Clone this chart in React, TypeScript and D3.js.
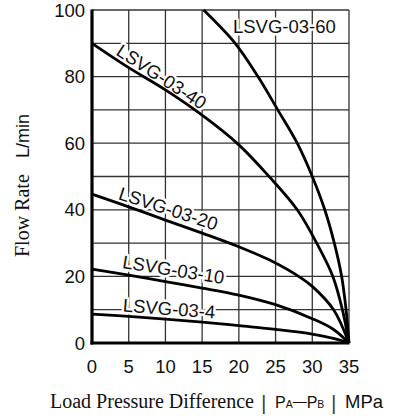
import React from "react";
import * as d3 from "d3";

const W = 400;
const H = 417;

const xTicks = [0, 5, 10, 15, 20, 25, 30, 35];
const yTicks = [0, 20, 40, 60, 80, 100];
const xGrid = [5, 10, 15, 20, 25, 30, 35];
const yGrid = [10, 20, 30, 40, 50, 60, 70, 80, 90, 100];

// [pressure MPa, flow L/min]
const svg60: [number, number][] = [
  [15.2, 100], [19.5, 90], [22.6, 80], [25.3, 70], [27.95, 60],
  [30.0, 50], [31.7, 40], [33.0, 30], [34.0, 20], [34.6, 10], [35, 0],
];
const svg40: [number, number][] = [
  [0, 90], [5, 82.7], [10, 76], [15, 68.4], [20, 59.5], [24.2, 49.8],
  [27.95, 40], [30.6, 30], [32.8, 20], [34.1, 10], [35, 0],
];
const svg20: [number, number][] = [
  [0, 44.7], [5, 40.9], [10, 36.9], [15, 33], [20, 28.9], [24.2, 24.9],
  [28.5, 19.5], [30, 17], [32.9, 10], [35, 0],
];
const svg10: [number, number][] = [
  [0, 22.2], [5, 20.4], [10, 18.4], [15, 16.5], [20, 14.4], [25, 11.5],
  [30, 7.3], [32.8, 4.2], [35, 0],
];
const svg4: [number, number][] = [
  [0, 8.7], [5, 8.0], [10, 7.2], [15, 6.3], [20, 5.2], [25, 4.1],
  [30, 2.7], [33, 1.3], [35, 0],
];

const seriesNames = ["LSVG-03-60", "LSVG-03-40", "LSVG-03-20", "LSVG-03-10", "LSVG-03-4"];
const seriesData = [svg60, svg40, svg20, svg10, svg4];
// label anchor in data units and rotation in degrees
const labelX = [19.2, 9.5, 10.4, 11.1, 10.5];
const labelY = [93.1, 80.0, 40.4, 22.1, 10.4];
const labelAngle = [0, 33, 18, 9, 4.5];

const SANS = "'Liberation Sans', Arial, Helvetica, sans-serif";
const SERIF = "'Liberation Serif', 'Times New Roman', serif";

export default function App() {
  const x = d3.scaleLinear().domain([0, 35]).range([92, 349]);
  const y = d3.scaleLinear().domain([0, 100]).range([343, 10]);
  const line = d3
    .line<[number, number]>()
    .x((d) => x(d[0]))
    .y((d) => y(d[1]))
    .curve(d3.curveCatmullRom.alpha(0.5));

  const fs = 18.5;

  return (
    <svg
      width={W}
      height={H}
      viewBox={`0 0 ${W} ${H}`}
      style={{ position: "absolute", left: 0, top: 0, background: "#fff" }}
    >
      <rect x={0} y={0} width={W} height={H} fill="#fff" />
      {/* grid */}
      <g stroke="#333" strokeWidth={1.3}>
        {xGrid.map((v) => (
          <line key={"gx" + v} x1={x(v)} x2={x(v)} y1={y(0)} y2={y(100)} />
        ))}
        {yGrid.map((v) => (
          <line key={"gy" + v} x1={x(0)} x2={x(35)} y1={y(v)} y2={y(v)} />
        ))}
      </g>
      {/* curve labels with white knockout */}
      <g fontFamily={SANS} fontSize={fs} fill="#111">
        {seriesNames.map((name, i) => {
          const px = x(labelX[i]);
          const py = y(labelY[i]);
          if (i === 0) {
            return (
              <text
                key={name}
                x={px}
                y={py}
                textAnchor="start"
                stroke="#fff"
                strokeWidth={5}
                paintOrder="stroke"
                strokeLinejoin="round"
              >
                {name}
              </text>
            );
          }
          return (
            <text
              key={name}
              x={0}
              y={0}
              dy={fs * 0.36}
              textAnchor="middle"
              transform={`translate(${px},${py}) rotate(${labelAngle[i]})`}
              stroke="#fff"
              strokeWidth={5}
              paintOrder="stroke"
              strokeLinejoin="round"
            >
              {name}
            </text>
          );
        })}
      </g>
      {/* curves */}
      <g fill="none" stroke="#000" strokeWidth={2.8} strokeLinejoin="round">
        {seriesData.map((d, i) => (
          <path key={seriesNames[i]} d={line(d) || ""} />
        ))}
      </g>
      {/* axes */}
      <line x1={x(0)} x2={x(0)} y1={y(100) - 0.5} y2={y(0) + 1.5} stroke="#000" strokeWidth={3.2} />
      <line x1={x(0) - 1.5} x2={x(35) + 0.5} y1={y(0)} y2={y(0)} stroke="#000" strokeWidth={3.2} />
      {/* tick labels */}
      <g fontFamily={SANS} fontSize={fs} fill="#111">
        {yTicks.map((v) => (
          <text key={"yt" + v} x={85} y={y(v) + fs * 0.36} textAnchor="end">
            {v}
          </text>
        ))}
        {xTicks.map((v) => (
          <text key={"xt" + v} x={x(v)} y={373} textAnchor="middle">
            {v}
          </text>
        ))}
      </g>
      {/* y title */}
      <text transform="translate(29,257) rotate(-90)" fill="#111">
        <tspan fontFamily={SERIF} fontSize={20}>Flow Rate</tspan>
        <tspan fontFamily={SANS} fontSize={18} x={99}>L/min</tspan>
      </text>
      {/* x title */}
      <text x={50} y={408} fill="#111">
        <tspan fontFamily={SERIF} fontSize={20}>Load Pressure Difference</tspan>
        <tspan fontFamily={SANS} fontSize={21} x={261} dy={1.5} fill="#444">|</tspan>
        <tspan fontFamily={SANS} fontSize={16} x={275} dy={-1.5}>P</tspan>
        <tspan fontFamily={SANS} fontSize={10.5}>A</tspan>
        <tspan fontFamily={SANS} fontSize={14} dy={-2}>—</tspan>
        <tspan fontFamily={SANS} fontSize={16} dy={2}>P</tspan>
        <tspan fontFamily={SANS} fontSize={10.5}>B</tspan>
        <tspan fontFamily={SANS} fontSize={21} x={331} dy={1.5} fill="#444">|</tspan>
        <tspan fontFamily={SANS} fontSize={18.5} x={345} dy={-1.5}>MPa</tspan>
      </text>
    </svg>
  );
}
